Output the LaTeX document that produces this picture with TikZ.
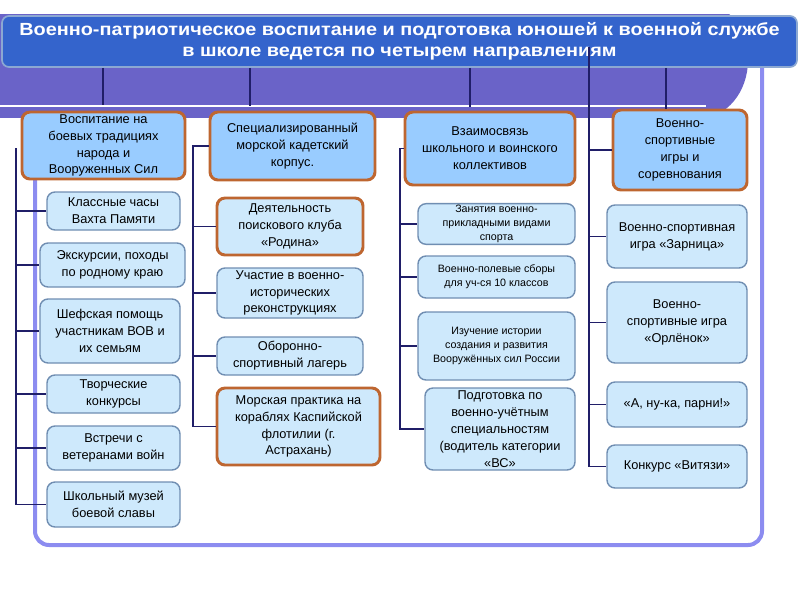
\documentclass[tikz,border=0pt]{standalone}
\usepackage{fontspec}
\setmainfont{Liberation Sans}
\newfontfamily\titelfont[FakeStretch=1.13]{Liberation Sans}
\newlength{\pxl}
\setlength{\pxl}{0.025cm}
\definecolor{bandcol}{RGB}{106,99,200}
\definecolor{titelcol}{RGB}{52,100,204}
\definecolor{titelrand}{RGB}{140,168,210}
\definecolor{rahmencol}{RGB}{140,140,240}
\definecolor{kopfcol}{RGB}{153,204,255}
\definecolor{punktcol}{RGB}{206,233,252}
\definecolor{orangerand}{RGB}{190,102,48}
\definecolor{punktrand}{RGB}{112,142,178}
\definecolor{linecol}{RGB}{32,30,104}
\tikzset{
	boxsize/.style 2 args={minimum width=#1\pxl, minimum height=#2\pxl},
	titelbox/.style={
		rectangle,
		rounded corners=7\pxl,
		fill=titelcol,
		draw=titelrand, line width=1.2pt,
		text=white,
		align=center,
		font=\titelfont\bfseries\fontsize{12.5}{15}\selectfont},
	kopf/.style={
		rectangle,
		rounded corners=8\pxl,
		fill=kopfcol,
		draw=orangerand, line width=2.1pt,
		align=center,
		inner sep=1pt,
		font=\fontsize{9.1}{12}\selectfont},
	punkt/.style={
		rectangle,
		rounded corners=8\pxl,
		fill=punktcol,
		draw=punktrand, line width=1pt,
		align=center,
		inner sep=1pt,
		font=\fontsize{9.1}{12}\selectfont},
	punktorange/.style={punkt, draw=orangerand, line width=2.1pt},
	klein/.style={font=\fontsize{7.6}{10}\selectfont},
	line/.style={draw=linecol, line width=0.9pt},
}
\begin{document}
\begin{tikzpicture}[x=0.025cm, y=-0.025cm]
\useasboundingbox (0,0) rectangle (800,600);
% Hintergrund
\begin{scope}
\clip (0,14) rectangle (800,118);
\fill[bandcol] (0,14) rectangle (700,118);
\fill[bandcol] (700,60) ellipse [x radius=48, y radius=58];
\end{scope}
\draw[white, line width=2\pxl] (0,106) -- (706,106);
\draw[rahmencol, line width=4\pxl, rounded corners=14\pxl] (35,112) -- (35,545) -- (762,545) -- (762,64);

\node[titelbox, boxsize={795}{51}] (titel) at (399.5,41.5)
	{Военно-патриотическое воспитание и подготовка юношей к военной службе\\в школе ведется по четырем направлениям};

% Richtungen
\node[kopf, boxsize={163}{67}] (h1) at (103.5,145.5) {Воспитание на\\боевых традициях\\народа и\\Вооруженных Сил};
\node[kopf, boxsize={165}{68}] (h2) at (292.5,146) {Специализированный\\морской кадетский\\корпус.};
\node[kopf, boxsize={170}{73}] (h3) at (490,148.5) {Взаимосвязь\\школьного и воинского\\коллективов};
\node[kopf, boxsize={134}{80}] (h4) at (680,150) {Военно-\\спортивные\\игры и\\соревнования};

% Spalte 1
\node[punkt, boxsize={133}{38}] (k1) at (113.5,211) {Классные часы\\Вахта Памяти};
\node[punkt, boxsize={145}{44}] (k2) at (112.5,265) {Экскурсии, походы\\по родному краю};
\node[punkt, boxsize={140}{64}] (k3) at (110,331) {Шефская помощь\\участникам ВОВ и\\их семьям};
\node[punkt, boxsize={133}{38}] (k4) at (113.5,394) {Творческие\\конкурсы};
\node[punkt, boxsize={133}{44}] (k5) at (113.5,448) {Встречи с\\ветеранами войн};
\node[punkt, boxsize={133}{45}] (k6) at (113.5,504.5) {Школьный музей\\боевой славы};

% Spalte 2
\node[punktorange, boxsize={146}{57}] (m1) at (290,226.5) {Деятельность\\поискового клуба\\«Родина»};
\node[punkt, boxsize={146}{50}] (m2) at (290,293) {Участие в военно-\\исторических\\реконструкциях};
\node[punkt, boxsize={146}{38}] (m3) at (290,356) {Оборонно-\\спортивный лагерь};
\node[punktorange, boxsize={163}{77}] (m4) at (298.5,426.5) {Морская практика на\\кораблях Каспийской\\флотилии (г.\\Астрахань)};

% Spalte 3
\node[punkt, klein, boxsize={157}{38}] (v1) at (496.5,224) {Занятия военно-\\прикладными видами\\спорта};
\node[punkt, klein, boxsize={157}{42}] (v2) at (496.5,277) {Военно-полевые сборы\\для уч-ся 10 классов};
\node[punkt, klein, boxsize={157}{68}] (v3) at (496.5,346) {Изучение истории\\создания и развития\\Вооружённых сил России};
\node[punkt, boxsize={150}{82}] (v4) at (500,429) {Подготовка по\\военно-учётным\\специальностям\\(водитель категории\\«ВС»};

% Spalte 4
\node[punkt, boxsize={140}{63}] (s1) at (677,236.5) {Военно-спортивная\\игра «Зарница»};
\node[punkt, boxsize={140}{81}] (s2) at (677,322.5) {Военно-\\спортивные игра\\«Орлёнок»};
\node[punkt, boxsize={140}{45}] (s3) at (677,404.5) {«А, ну-ка, парни!»};
\node[punkt, boxsize={140}{43}] (s4) at (677,466.5) {Конкурс «Витязи»};

% Verbindungen
\coordinate (o1) at (103,105);
\coordinate (o2) at (250,106);
\coordinate (o3) at (470,107);
\coordinate (o4) at (666,109);
\foreach \o in {o1,o2,o3,o4}
	\draw[line] (titel.south -| \o) -- (\o);

\coordinate (t1) at (16,148);
\foreach \n in {k1,k2,k3,k4,k5,k6}
	\draw[line] (t1) |- (\n.west);
\coordinate (t2) at (193,148);
\foreach \n in {h2,m1,m2,m3,m4}
	\draw[line] (t2) |- (\n.west);
\coordinate (t3) at (400,149);
\foreach \n in {h3,v1,v2,v3,v4}
	\draw[line] (t3) |- (\n.west);
\coordinate (t4) at (589,47);
\foreach \n in {h4,s1,s2,s3,s4}
	\draw[line] (t4) |- (\n.west);

\end{tikzpicture}
\end{document}
